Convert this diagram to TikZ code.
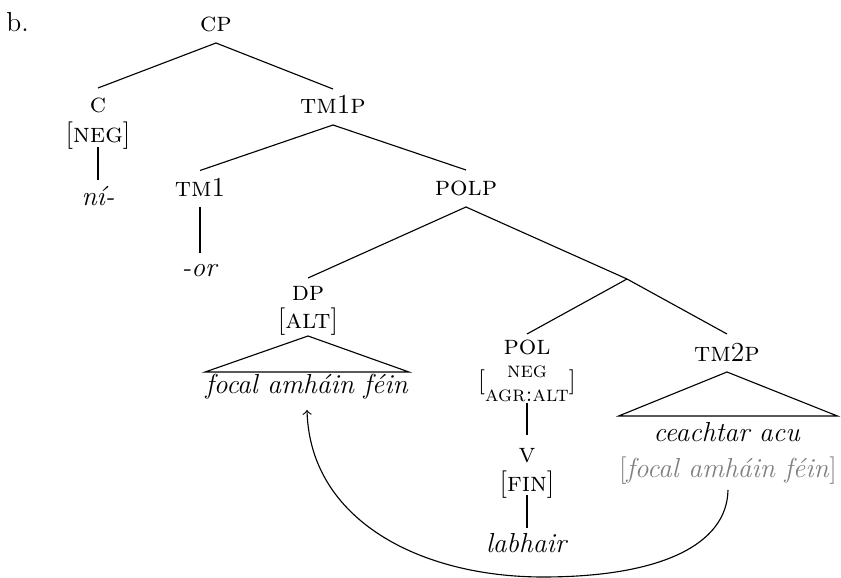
\documentclass[tikz,border=0pt]{standalone}
\usepackage{fontspec}
\begin{document}
\begin{tikzpicture}[x=0.4pt,y=-0.4pt,
  font=\fontsize{11}{13.2}\selectfont,
  every node/.style={inner sep=0pt, anchor=base},
  branch/.style={line width=0.45pt},
  copytext/.style={text=black!50}]
\useasboundingbox (0,0) rectangle (841,578);
% labels
\node[anchor=base west] (b) at (6,32) {b.};
\node (cp) at (216,32) {\textsc{cp}};
\node (c) at (98,113) {\textsc{c}};
\node (cneg) at (98,143) {[\textsc{neg}]};
\node (ni) at (98,206) {\textit{ní-}};
\node (tmonep) at (333,114) {\textsc{tm}1\textsc{p}};
\node (tmone) at (200,197) {\textsc{tm}1};
\node (or) at (200,277) {\textit{-or}};
\node (polp) at (466,196) {\textsc{polp}};
\node (dp) at (308,301) {\textsc{dp}};
\node (alt) at (308,329) {[\textsc{alt}]};
\node (focal) at (307,394) {\textit{focal amháin féin}};
\coordinate (bar) at (627,279);
\node (pol) at (527,355) {\textsc{pol}};
\node (polf) at (527,389) {{\fontsize{10}{12}\selectfont[}\raisebox{4.4pt}{\fontsize{8.8}{10}\selectfont\renewcommand\arraystretch{0.6}\begin{tabular}[t]{@{}c@{}}\textsc{neg}\\[2.8pt]\textsc{agr:alt}\end{tabular}}{\fontsize{10}{12}\selectfont]}};
\node (v) at (527,463) {\textsc{v}};
\node (fin) at (527,492) {[\textsc{fin}]};
\node (labhair) at (527,553) {\textit{labhair}};
\node (tmtwop) at (727,362) {\textsc{tm}2\textsc{p}};
\node (ceach) at (727,442) {\textit{ceachtar acu}};
\node[copytext] (copy) at (728,478) {[\textit{focal amháin féin}]};
% branches
\draw[branch] ([yshift=-4.4pt]cp.base) -- ([yshift=10pt]c.base);
\draw[branch] ([yshift=-4.4pt]cp.base) -- ([yshift=10pt]tmonep.base);
\draw[branch] ([yshift=-1.6pt]cneg.base) -- ([yshift=10.4pt]ni.base);
\draw[branch] ([yshift=-4.4pt]tmonep.base) -- ([yshift=10.6pt]tmone.base);
\draw[branch] ([yshift=-4.4pt]tmonep.base) -- ([yshift=10.4pt]polp.base);
\draw[branch] ([yshift=-4pt]tmone.base) -- ([yshift=9.6pt]or.base);
\draw[branch] ([yshift=-4.4pt]polp.base) -- ([yshift=9.2pt]dp.base);
\draw[branch] ([yshift=-4.4pt]polp.base) -- (bar);
\draw[branch] (bar) -- ([yshift=8.4pt]pol.base);
\draw[branch] (bar) -- ([yshift=11.2pt]tmtwop.base);
\draw[branch] ([yshift=-5.6pt]polf.base) -- ([yshift=11.2pt]v.base);
\draw[branch] ([yshift=-1.2pt]fin.base) -- ([yshift=10pt]labhair.base);
% triangles
\draw[branch] ([yshift=-2.8pt]alt.base) -- ([yshift=8.8pt]focal.base west) -- ([yshift=8.8pt]focal.base east) -- cycle;
\coordinate (tb) at ([yshift=10.4pt]ceach.base);
\draw[branch] ([yshift=-4pt]tmtwop.base) -- (tb -| copy.west) -- (tb -| copy.east) -- cycle;
% movement arrow
\coordinate (low) at (543,577);
\draw[branch,->] ([yshift=-4.8pt]copy.base) .. controls (727,545) and (660,577) .. (low) .. controls (420,577) and (310,520) .. ([yshift=-6.4pt]focal.base);
\end{tikzpicture}
\end{document}
